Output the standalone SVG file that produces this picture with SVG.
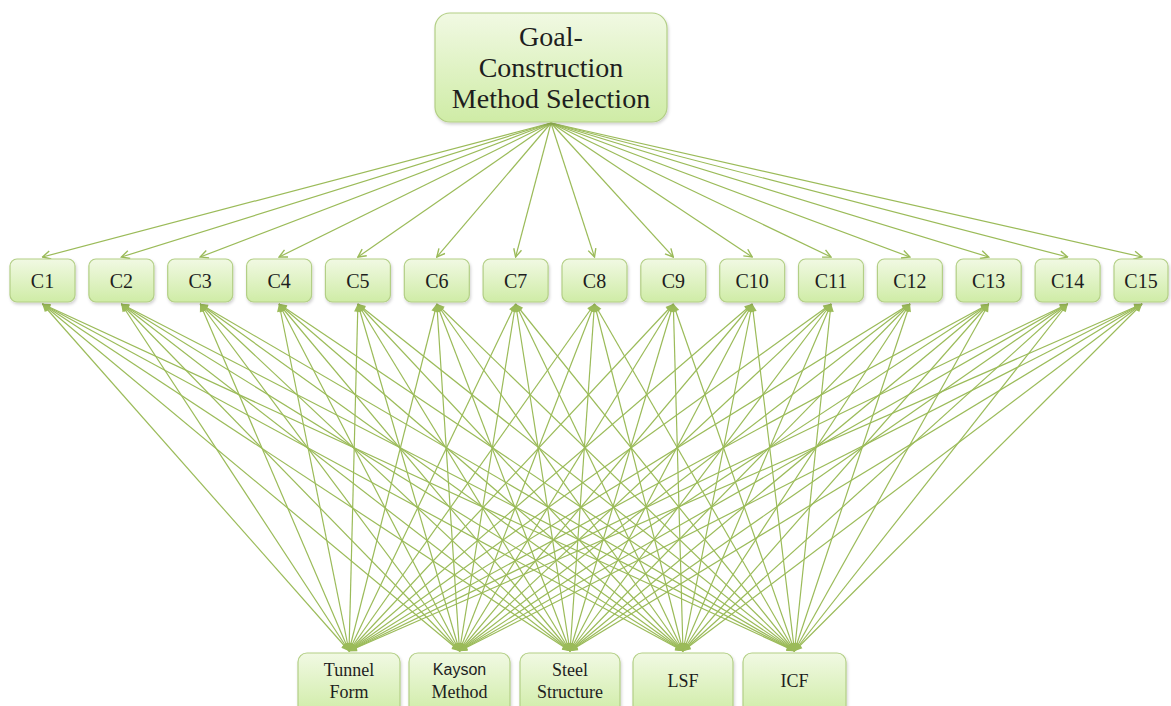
<svg xmlns="http://www.w3.org/2000/svg" width="1171" height="706" viewBox="0 0 1171 706">
<style>
.t{stroke:#9bbb59;stroke-width:1.2;fill:none;marker-end:url(#av)}
.b line{stroke:#9bbb59;stroke-width:1.2;marker-start:url(#ah);marker-end:url(#ah)}
.box{fill:url(#g);stroke:#b3cf86;stroke-width:1.2;filter:url(#sh)}
.lbl{font-family:"Times New Roman","Liberation Serif","DejaVu Serif",serif;fill:#1e1e1e;text-anchor:middle}
.sans{font-family:"Liberation Sans",Arial,sans-serif}
</style>
<defs>
<linearGradient id="g" x1="0" y1="0" x2="0" y2="1">
<stop offset="0" stop-color="#f1f9e3"/>
<stop offset="1" stop-color="#cfeca6"/>
</linearGradient>
<filter id="sh" x="-10%" y="-10%" width="130%" height="130%">
<feDropShadow dx="1" dy="2" stdDeviation="1.5" flood-color="#000" flood-opacity="0.18"/>
</filter>
<marker id="ah" viewBox="0 0 10 10" refX="9.5" refY="5" markerWidth="9" markerHeight="8" markerUnits="userSpaceOnUse" orient="auto-start-reverse">
<path d="M0,0.5 L10,5 L0,9.5 z" fill="#9bbb59"/>
</marker>
<marker id="av" viewBox="0 0 10 10" refX="9" refY="5" markerWidth="10" markerHeight="10" markerUnits="userSpaceOnUse" orient="auto">
<path d="M1,1 L9,5 L1,9" fill="none" stroke="#9bbb59" stroke-width="1.4"/>
</marker>
</defs>
<rect width="1171" height="706" fill="#ffffff"/>
<g id="connectors">
<g id="goal-links">
<path class="t" d="M551,123 L42.5,257"/>
<path class="t" d="M551,123 L121.4,257"/>
<path class="t" d="M551,123 L200.2,257"/>
<path class="t" d="M551,123 L279.1,257"/>
<path class="t" d="M551,123 L357.9,257"/>
<path class="t" d="M551,123 L436.8,257"/>
<path class="t" d="M551,123 L515.6,257"/>
<path class="t" d="M551,123 L594.5,257"/>
<path class="t" d="M551,123 L673.3,257"/>
<path class="t" d="M551,123 L752.2,257"/>
<path class="t" d="M551,123 L831,257"/>
<path class="t" d="M551,123 L909.9,257"/>
<path class="t" d="M551,123 L988.7,257"/>
<path class="t" d="M551,123 L1067.6,257"/>
<path class="t" d="M551,123 L1142,257"/>
</g>
<g class="b" id="alt-links">
<line x1="349" y1="651" x2="42.5" y2="304"/><line x1="349" y1="651" x2="121.4" y2="304"/><line x1="349" y1="651" x2="200.2" y2="304"/><line x1="349" y1="651" x2="279.1" y2="304"/><line x1="349" y1="651" x2="357.9" y2="304"/><line x1="349" y1="651" x2="436.8" y2="304"/><line x1="349" y1="651" x2="515.6" y2="304"/><line x1="349" y1="651" x2="594.5" y2="304"/><line x1="349" y1="651" x2="673.3" y2="304"/><line x1="349" y1="651" x2="752.2" y2="304"/><line x1="349" y1="651" x2="831" y2="304"/><line x1="349" y1="651" x2="909.9" y2="304"/><line x1="349" y1="651" x2="988.7" y2="304"/><line x1="349" y1="651" x2="1067.6" y2="304"/><line x1="349" y1="651" x2="1142" y2="304"/>
<line x1="459.5" y1="651" x2="42.5" y2="304"/><line x1="459.5" y1="651" x2="121.4" y2="304"/><line x1="459.5" y1="651" x2="200.2" y2="304"/><line x1="459.5" y1="651" x2="279.1" y2="304"/><line x1="459.5" y1="651" x2="357.9" y2="304"/><line x1="459.5" y1="651" x2="436.8" y2="304"/><line x1="459.5" y1="651" x2="515.6" y2="304"/><line x1="459.5" y1="651" x2="594.5" y2="304"/><line x1="459.5" y1="651" x2="673.3" y2="304"/><line x1="459.5" y1="651" x2="752.2" y2="304"/><line x1="459.5" y1="651" x2="831" y2="304"/><line x1="459.5" y1="651" x2="909.9" y2="304"/><line x1="459.5" y1="651" x2="988.7" y2="304"/><line x1="459.5" y1="651" x2="1067.6" y2="304"/><line x1="459.5" y1="651" x2="1142" y2="304"/>
<line x1="570" y1="651" x2="42.5" y2="304"/><line x1="570" y1="651" x2="121.4" y2="304"/><line x1="570" y1="651" x2="200.2" y2="304"/><line x1="570" y1="651" x2="279.1" y2="304"/><line x1="570" y1="651" x2="357.9" y2="304"/><line x1="570" y1="651" x2="436.8" y2="304"/><line x1="570" y1="651" x2="515.6" y2="304"/><line x1="570" y1="651" x2="594.5" y2="304"/><line x1="570" y1="651" x2="673.3" y2="304"/><line x1="570" y1="651" x2="752.2" y2="304"/><line x1="570" y1="651" x2="831" y2="304"/><line x1="570" y1="651" x2="909.9" y2="304"/><line x1="570" y1="651" x2="988.7" y2="304"/><line x1="570" y1="651" x2="1067.6" y2="304"/><line x1="570" y1="651" x2="1142" y2="304"/>
<line x1="683" y1="651" x2="42.5" y2="304"/><line x1="683" y1="651" x2="121.4" y2="304"/><line x1="683" y1="651" x2="200.2" y2="304"/><line x1="683" y1="651" x2="279.1" y2="304"/><line x1="683" y1="651" x2="357.9" y2="304"/><line x1="683" y1="651" x2="436.8" y2="304"/><line x1="683" y1="651" x2="515.6" y2="304"/><line x1="683" y1="651" x2="594.5" y2="304"/><line x1="683" y1="651" x2="673.3" y2="304"/><line x1="683" y1="651" x2="752.2" y2="304"/><line x1="683" y1="651" x2="831" y2="304"/><line x1="683" y1="651" x2="909.9" y2="304"/><line x1="683" y1="651" x2="988.7" y2="304"/><line x1="683" y1="651" x2="1067.6" y2="304"/><line x1="683" y1="651" x2="1142" y2="304"/>
<line x1="794.5" y1="651" x2="42.5" y2="304"/><line x1="794.5" y1="651" x2="121.4" y2="304"/><line x1="794.5" y1="651" x2="200.2" y2="304"/><line x1="794.5" y1="651" x2="279.1" y2="304"/><line x1="794.5" y1="651" x2="357.9" y2="304"/><line x1="794.5" y1="651" x2="436.8" y2="304"/><line x1="794.5" y1="651" x2="515.6" y2="304"/><line x1="794.5" y1="651" x2="594.5" y2="304"/><line x1="794.5" y1="651" x2="673.3" y2="304"/><line x1="794.5" y1="651" x2="752.2" y2="304"/><line x1="794.5" y1="651" x2="831" y2="304"/><line x1="794.5" y1="651" x2="909.9" y2="304"/><line x1="794.5" y1="651" x2="988.7" y2="304"/><line x1="794.5" y1="651" x2="1067.6" y2="304"/><line x1="794.5" y1="651" x2="1142" y2="304"/>
</g>
</g>
<g id="goal">
<rect class="box" x="435" y="13" width="232" height="109" rx="15"/>
<text class="lbl" font-size="28" x="551" y="46">Goal-</text>
<text class="lbl" font-size="28" x="551" y="77">Construction</text>
<text class="lbl" font-size="28" x="551" y="108">Method Selection</text>
</g>
<g id="c1"><rect class="box" x="10" y="259" width="65" height="43" rx="7"/><text class="lbl" font-size="20" x="42.5" y="288">C1</text></g>
<g id="c2"><rect class="box" x="88.9" y="259" width="65" height="43" rx="7"/><text class="lbl" font-size="20" x="121.4" y="288">C2</text></g>
<g id="c3"><rect class="box" x="167.7" y="259" width="65" height="43" rx="7"/><text class="lbl" font-size="20" x="200.2" y="288">C3</text></g>
<g id="c4"><rect class="box" x="246.6" y="259" width="65" height="43" rx="7"/><text class="lbl" font-size="20" x="279.1" y="288">C4</text></g>
<g id="c5"><rect class="box" x="325.4" y="259" width="65" height="43" rx="7"/><text class="lbl" font-size="20" x="357.9" y="288">C5</text></g>
<g id="c6"><rect class="box" x="404.3" y="259" width="65" height="43" rx="7"/><text class="lbl" font-size="20" x="436.8" y="288">C6</text></g>
<g id="c7"><rect class="box" x="483.1" y="259" width="65" height="43" rx="7"/><text class="lbl" font-size="20" x="515.6" y="288">C7</text></g>
<g id="c8"><rect class="box" x="562" y="259" width="65" height="43" rx="7"/><text class="lbl" font-size="20" x="594.5" y="288">C8</text></g>
<g id="c9"><rect class="box" x="640.8" y="259" width="65" height="43" rx="7"/><text class="lbl" font-size="20" x="673.3" y="288">C9</text></g>
<g id="c10"><rect class="box" x="719.7" y="259" width="65" height="43" rx="7"/><text class="lbl" font-size="20" x="752.2" y="288">C10</text></g>
<g id="c11"><rect class="box" x="798.5" y="259" width="65" height="43" rx="7"/><text class="lbl" font-size="20" x="831" y="288">C11</text></g>
<g id="c12"><rect class="box" x="877.4" y="259" width="65" height="43" rx="7"/><text class="lbl" font-size="20" x="909.9" y="288">C12</text></g>
<g id="c13"><rect class="box" x="956.2" y="259" width="65" height="43" rx="7"/><text class="lbl" font-size="20" x="988.7" y="288">C13</text></g>
<g id="c14"><rect class="box" x="1035.1" y="259" width="65" height="43" rx="7"/><text class="lbl" font-size="20" x="1067.6" y="288">C14</text></g>
<g id="c15"><rect class="box" x="1114" y="259" width="54" height="43" rx="7"/><text class="lbl" font-size="20" x="1141" y="288">C15</text></g>
<g id="tunnel-form"><rect class="box" x="298" y="653" width="102" height="62" rx="9"/><text class="lbl" font-size="18" x="349" y="676">Tunnel</text><text class="lbl" font-size="18" x="349" y="698">Form</text></g>
<g id="kayson-method"><rect class="box" x="409" y="653" width="101" height="62" rx="9"/><text class="lbl sans" font-size="16" x="459.5" y="675">Kayson</text><text class="lbl" font-size="18" x="459.5" y="698">Method</text></g>
<g id="steel-structure"><rect class="box" x="520" y="653" width="100" height="62" rx="9"/><text class="lbl" font-size="18" x="570" y="676">Steel</text><text class="lbl" font-size="18" x="570" y="698">Structure</text></g>
<g id="lsf"><rect class="box" x="633" y="653" width="100" height="62" rx="9"/><text class="lbl" font-size="18" x="683" y="687">LSF</text></g>
<g id="icf"><rect class="box" x="743" y="653" width="103" height="62" rx="9"/><text class="lbl" font-size="18" x="794.5" y="687">ICF</text></g>
</svg>
